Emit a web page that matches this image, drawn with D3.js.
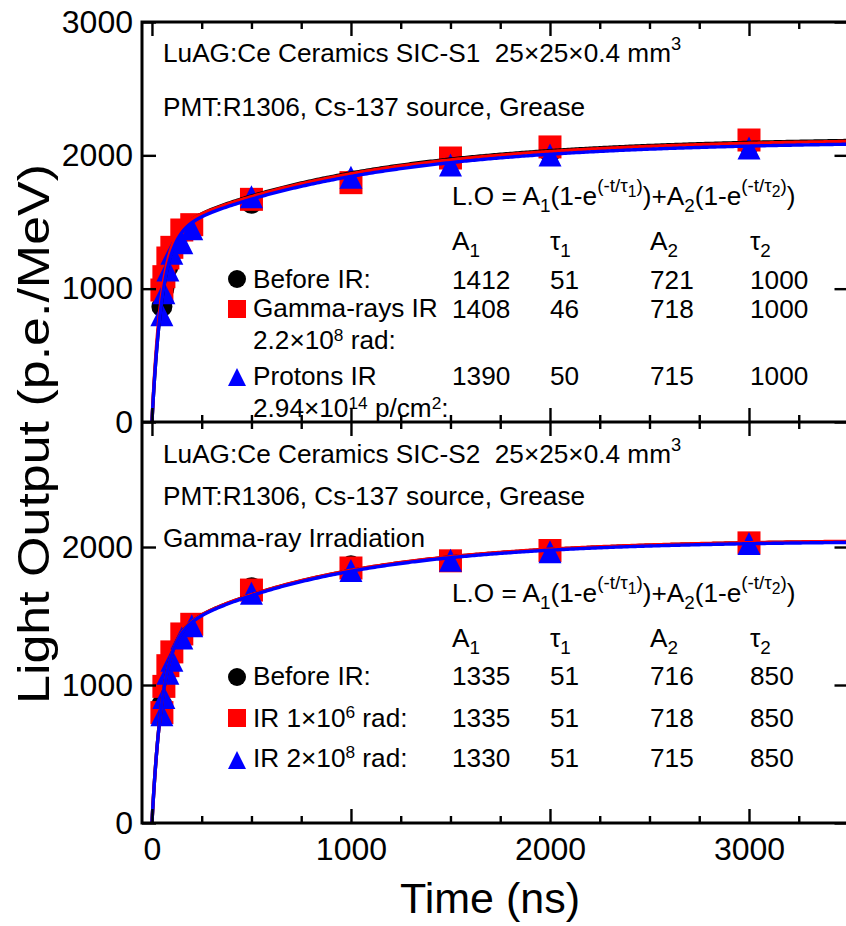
<!DOCTYPE html>
<html><head><meta charset="utf-8">
<script src="https://cdn.jsdelivr.net/npm/d3@7"></script>
<style>
html,body{margin:0;padding:0;background:#fff;}
svg{display:block;}
text{font-family:"Liberation Sans",Arial,sans-serif;fill:#000;white-space:pre;}
</style></head>
<body><svg id="c" width="846" height="926"></svg>
<script>
// ---------- data ----------
const times = [50, 60, 80, 100, 150, 200, 500, 1000, 1500, 2000, 3000];
// Top panel (SIC-S1)
const topBefore = [865, 1000, 1160, 1270, 1420, 1460, 1640, 1810, 1950, 2020, 2080];
const topGamma  = [990, 1090, 1230, 1310, 1440, 1480, 1670, 1795, 1980, 2063, 2115];
const topProton = [805, 970, 1140, 1265, 1345, 1450, 1690, 1835, 1928, 2003, 2055];
const topA1   = [1412, 1408, 1390];
const topTau1 = [51, 46, 50];
const topA2   = [721, 718, 715];
const topTau2 = [1000, 1000, 1000];
// Bottom panel (SIC-S2)
const botBefore = [860, 970, 1120, 1225, 1360, 1425, 1705, 1865, 1900, 1970, 2025];
const botIR1e6  = [800, 990, 1140, 1240, 1370, 1440, 1688, 1848, 1900, 1975, 2030];
const botIR2e8  = [785, 910, 1085, 1180, 1340, 1430, 1665, 1830, 1905, 1965, 2025];
const botA1   = [1335, 1335, 1330];
const botTau1 = [51, 51, 51];
const botA2   = [716, 718, 715];
const botTau2 = [850, 850, 850];
const xTicksMajor = [0, 1000, 2000, 3000];
const xTicksMinor = [250, 500, 750, 1250, 1500, 1750, 2250, 2500, 2750, 3250, 3500];
const yTicksTop = [0, 1000, 2000, 3000];
const yTicksBot = [0, 1000, 2000];
const seriesColors = ["#000000", "#ff0000", "#0000ff"];

// ---------- layout ----------
const svg = d3.select("#c");
const L = 142, R = 848.5;
const x = d3.scaleLinear().domain([-50, 3500]).range([L, R]);
const yTop = d3.scaleLinear().domain([0, 3000]).range([422, 22]);
const yBot = d3.scaleLinear().domain([0, 2906]).range([823, 422]);

svg.append("defs").append("clipPath").attr("id", "clipAll")
  .append("rect").attr("x", L).attr("y", 22).attr("width", R - L).attr("height", 801);

function fitCurve(A1, t1, A2, t2) {
  const pts = [];
  for (let t = 0; t <= 3600; t += (t < 300 ? 1 : 10)) {
    pts.push([t, A1 * (1 - Math.exp(-t / t1)) + A2 * (1 - Math.exp(-t / t2))]);
  }
  return pts;
}
// marker path generators (bbox centred on the point)
function markerPath(i, s) {
  const h = s / 2;
  if (i === 0) return d3.symbol().type(d3.symbolCircle).size(Math.PI * h * h)();
  if (i === 1) return `M${-h},${-h}H${h}V${h}H${-h}Z`;
  return `M0,${-h}L${h},${h}L${-h},${h}Z`;
}

function drawPanel(y, seriesArr, A1, T1, A2, T2) {
  const g = svg.append("g").attr("clip-path", "url(#clipAll)");
  const line = d3.line().x(d => x(d[0])).y(d => y(d[1]));
  const sizes = [21, 23, 23];
  seriesArr.forEach((vals, i) => {
    g.selectAll(null).data(times.map((t, k) => [t, vals[k]])).enter()
      .append("path")
      .attr("d", markerPath(i, sizes[i]))
      .attr("transform", d => `translate(${x(d[0])},${y(d[1])})`)
      .attr("fill", seriesColors[i]);
  });
  [0, 1, 2].forEach(i => {
    g.append("path").datum(fitCurve(A1[i], T1[i], A2[i], T2[i]))
      .attr("d", line).attr("fill", "none")
      .attr("stroke", seriesColors[i]).attr("stroke-width", 3.4);
  });
}

drawPanel(yTop, [topBefore, topGamma, topProton], topA1, topTau1, topA2, topTau2);
drawPanel(yBot, [botBefore, botIR1e6, botIR2e8], botA1, botTau1, botA2, botTau2);

// ---------- axes ----------
function xTicks(yPos, dir, withLabels) {
  const maj = d3.axisBottom(x).tickValues(xTicksMajor).tickSize(14 * dir)
    .tickPadding(withLabels ? 14 : 0).tickFormat(withLabels ? d3.format("d") : "");
  const min = d3.axisBottom(x).tickValues(xTicksMinor).tickSize(7 * dir).tickFormat("");
  [maj, min].forEach(a => {
    const ax = svg.append("g").attr("transform", `translate(0,${yPos})`).call(a);
    ax.select(".domain").remove();
    ax.selectAll("line").attr("stroke", "#000").attr("stroke-width", 2.4);
    ax.selectAll("text").attr("font-size", 32).attr("font-family", '"Liberation Sans",Arial,sans-serif');
  });
}
xTicks(22, 1, false);
xTicks(422, -1, false);
xTicks(422, 1, false);
xTicks(823, -1, true);

function yTicks(y, vals) {
  const left = d3.axisLeft(y).tickValues(vals).tickSize(-14).tickPadding(9).tickFormat(d3.format("d"));
  const ax = svg.append("g").attr("transform", `translate(${L},0)`).call(left);
  ax.select(".domain").remove();
  ax.selectAll("line").attr("stroke", "#000").attr("stroke-width", 2.4);
  ax.selectAll("text").attr("font-size", 32).attr("font-family", '"Liberation Sans",Arial,sans-serif');
  const right = d3.axisRight(y).tickValues(vals).tickSize(-14).tickFormat("");
  const ax2 = svg.append("g").attr("transform", `translate(${R},0)`).call(right);
  ax2.select(".domain").remove();
  ax2.selectAll("line").attr("stroke", "#000").attr("stroke-width", 2.4);
}
yTicks(yTop, yTicksTop);
yTicks(yBot, yTicksBot);

// frames
svg.append("rect").attr("x", L).attr("y", 22).attr("width", R - L).attr("height", 801)
  .attr("fill", "none").attr("stroke", "#000").attr("stroke-width", 3);
svg.append("line").attr("x1", L).attr("x2", R).attr("y1", 422).attr("y2", 422)
  .attr("stroke", "#000").attr("stroke-width", 3);

// axis titles
svg.append("text").attr("x", 490).attr("y", 913).attr("text-anchor", "middle")
  .attr("font-size", 43).text("Time (ns)");
svg.append("text").attr("transform", "translate(49,434) rotate(-90)").attr("text-anchor", "middle")
  .attr("font-size", 45).attr("textLength", 540).attr("lengthAdjust", "spacingAndGlyphs")
  .text("Light Output (p.e./MeV)");

// ---------- rich text helper ----------
function rich(xp, yp, parts, size, supOff, supScale) {
  supOff = supOff || 0.45; supScale = supScale || 0.72;
  const t = svg.append("text").attr("x", xp).attr("y", yp).attr("font-size", size);
  let cur = 0;
  parts.forEach(p => {
    let off = 0, fs = size;
    if (p.s === "sub") { off = 0.28 * size; fs = 0.72 * size; }
    else if (p.s === "sup") { off = -supOff * size; fs = supScale * size; }
    else if (p.s === "supsub") { off = -supOff * size + 0.2 * size; fs = 0.6 * size; }
    t.append("tspan").attr("dy", off - cur).attr("font-size", fs).text(p.t);
    cur = off;
  });
  return t;
}
const FS = 26.2;
function header(yp, label) {
  rich(163, yp, [{t: "LuAG:Ce Ceramics " + label + "\u00a0\u00a025×25×0.4 mm"}, {t: "3", s: "sup"}], FS, 0.46, 0.7);
}
function equation(yp) {
  rich(452, yp, [
    {t: "L.O = A"}, {t: "1", s: "sub"}, {t: "(1-e"}, {t: "(-t/τ", s: "sup"}, {t: "1", s: "supsub"},
    {t: ")", s: "sup"}, {t: ")+A"}, {t: "2", s: "sub"}, {t: "(1-e"}, {t: "(-t/τ", s: "sup"},
    {t: "2", s: "supsub"}, {t: ")", s: "sup"}, {t: ")"}
  ], FS, 0.5, 0.72);
}
const colX = [452, 550, 650, 750];
function colHeads(yp) {
  rich(colX[0], yp, [{t: "A"}, {t: "1", s: "sub"}], FS);
  rich(colX[1], yp, [{t: "τ"}, {t: "1", s: "sub"}], FS);
  rich(colX[2], yp, [{t: "A"}, {t: "2", s: "sub"}], FS);
  rich(colX[3], yp, [{t: "τ"}, {t: "2", s: "sub"}], FS);
}
function row(yp, i, A1, T1, A2, T2) {
  [A1[i], T1[i], A2[i], T2[i]].forEach((v, k) => {
    svg.append("text").attr("x", colX[k]).attr("y", yp).attr("font-size", FS).text(v);
  });
}
function legendMark(i, cx, cy) {
  svg.append("path").attr("d", markerPath(i, 18))
    .attr("transform", `translate(${cx},${cy})`).attr("fill", seriesColors[i]);
}

// top panel annotations
header(62, "SIC-S1");
svg.append("text").attr("x", 163).attr("y", 116).attr("font-size", FS).text("PMT:R1306, Cs-137 source, Grease");
equation(205);
colHeads(250);
row(289, 0, topA1, topTau1, topA2, topTau2);
row(318, 1, topA1, topTau1, topA2, topTau2);
row(385, 2, topA1, topTau1, topA2, topTau2);
legendMark(0, 237, 279);
legendMark(1, 237, 309);
legendMark(2, 237, 377);
svg.append("text").attr("x", 253).attr("y", 288).attr("font-size", FS).text("Before IR:");
svg.append("text").attr("x", 253).attr("y", 317).attr("font-size", FS).text("Gamma-rays IR");
rich(253, 349, [{t: "2.2×10"}, {t: "8", s: "sup"}, {t: " rad:"}], FS, 0.32, 0.66);
svg.append("text").attr("x", 253).attr("y", 385).attr("font-size", FS).text("Protons IR");
rich(253, 417, [{t: "2.94×10"}, {t: "14", s: "sup"}, {t: " p/cm"}, {t: "2", s: "sup"}, {t: ":"}], FS, 0.32, 0.66);

// bottom panel annotations
header(463, "SIC-S2");
svg.append("text").attr("x", 163).attr("y", 505).attr("font-size", FS).text("PMT:R1306, Cs-137 source, Grease");
svg.append("text").attr("x", 163).attr("y", 547).attr("font-size", FS).text("Gamma-ray Irradiation");
equation(602);
colHeads(647);
row(685, 0, botA1, botTau1, botA2, botTau2);
row(727, 1, botA1, botTau1, botA2, botTau2);
row(767, 2, botA1, botTau1, botA2, botTau2);
legendMark(0, 237, 677);
legendMark(1, 237, 718);
legendMark(2, 237, 760);
svg.append("text").attr("x", 253).attr("y", 685).attr("font-size", FS).text("Before IR:");
rich(253, 727, [{t: "IR 1×10"}, {t: "6", s: "sup"}, {t: " rad:"}], FS, 0.36, 0.66);
rich(253, 767, [{t: "IR 2×10"}, {t: "8", s: "sup"}, {t: " rad:"}], FS, 0.36, 0.66);
</script></body></html>
